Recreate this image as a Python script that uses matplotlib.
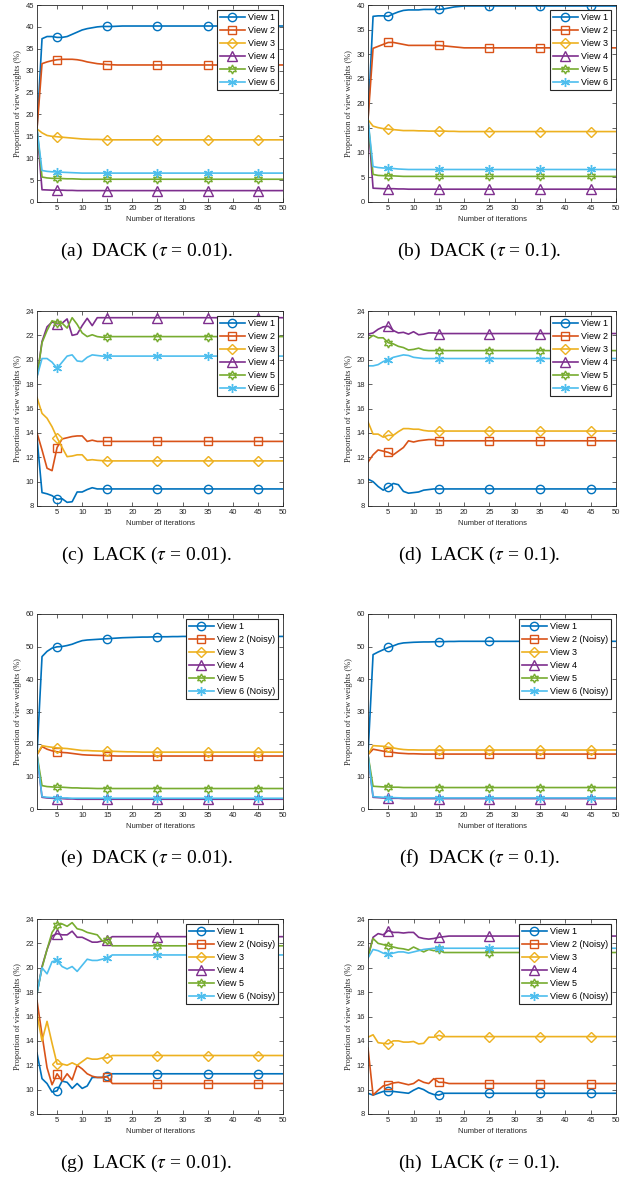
import matplotlib.pyplot as plt

plt.rcParams['font.family'] = ['Liberation Sans', 'DejaVu Sans']
plt.rcParams['mathtext.fontset'] = 'stix'

N_ITER = 50
iters = list(range(1, N_ITER + 1))


def settle(head):
    # weights stay flat after the last listed iteration
    return head + [head[-1]] * (N_ITER - len(head))


# (a) DACK, tau = 0.01
a_v1 = settle([16.7, 37.3, 37.8, 37.8, 37.6, 37.6, 37.8, 38.3, 38.8, 39.3, 39.6, 39.8, 40.0, 40.1, 40.1, 40.1, 40.15, 40.2])
a_v2 = settle([16.7, 31.6, 32.0, 32.3, 32.5, 32.6, 32.6, 32.6, 32.5, 32.3, 32.0, 31.8, 31.6, 31.5, 31.4, 31.35, 31.3])
a_v3 = settle([16.7, 15.8, 15.2, 15.0, 14.9, 14.8, 14.7, 14.6, 14.5, 14.4, 14.35, 14.3, 14.3, 14.25, 14.2])
a_v4 = settle([16.7, 2.8, 2.75, 2.7, 2.7, 2.7, 2.65, 2.65, 2.6])
a_v5 = settle([16.7, 5.7, 5.5, 5.4, 5.4, 5.35, 5.3, 5.3, 5.25, 5.2])
a_v6 = settle([16.7, 7.2, 7.0, 6.9, 6.9, 6.8, 6.75, 6.7, 6.65, 6.6])

# (b) DACK, tau = 0.1
b_v1 = settle([16.7, 37.7, 37.8, 37.8, 37.7, 38.2, 38.6, 38.9, 39.0, 39.0, 39.0, 39.1, 39.1, 39.1, 39.1, 39.2, 39.4, 39.6, 39.7, 39.8])
b_v2 = settle([16.7, 31.2, 31.6, 32.0, 32.4, 32.4, 32.2, 32.0, 31.8, 31.8, 31.8, 31.8, 31.8, 31.8, 31.8, 31.7, 31.6, 31.5, 31.4, 31.3])
b_v3 = settle([16.7, 15.4, 15.1, 14.9, 14.8, 14.7, 14.6, 14.5, 14.5, 14.5, 14.45, 14.45, 14.4, 14.4, 14.4, 14.4, 14.35, 14.35, 14.3])
b_v4 = settle([16.7, 2.8, 2.75, 2.7, 2.7, 2.7, 2.65, 2.65, 2.6])
b_v5 = settle([16.7, 5.6, 5.4, 5.35, 5.3, 5.3, 5.25, 5.2])
b_v6 = settle([16.7, 7.2, 7.0, 6.9, 6.9, 6.8, 6.7, 6.65, 6.6])

# (c) LACK, tau = 0.01
c_v1 = settle([13.6, 9.1, 9.0, 8.85, 8.55, 8.6, 8.3, 8.35, 9.15, 9.15, 9.35, 9.5, 9.4])
c_v2 = settle([14.0, 12.6, 11.1, 10.9, 12.8, 13.5, 13.6, 13.7, 13.75, 13.75, 13.3, 13.4, 13.3])
c_v3 = settle([16.9, 15.6, 15.2, 14.5, 13.6, 12.8, 12.05, 12.1, 12.2, 12.2, 11.75, 11.8, 11.75, 11.72, 11.7])
c_v4 = settle([18.6, 21.5, 22.7, 23.1, 22.95, 23.0, 23.35, 22.0, 22.1, 22.8, 23.4, 22.8, 23.45])
c_v5 = settle([18.6, 21.4, 22.4, 23.2, 23.0, 23.0, 22.6, 23.45, 22.9, 22.2, 21.9, 22.05, 21.9, 21.85, 21.85, 21.9])
c_v6 = settle([18.6, 20.1, 20.1, 19.8, 19.3, 19.8, 20.3, 20.4, 19.9, 19.85, 20.2, 20.4, 20.35, 20.3])

# (d) LACK, tau = 0.1
d_v1 = settle([10.2, 10.0, 9.6, 9.3, 9.55, 9.85, 9.75, 9.2, 9.05, 9.1, 9.15, 9.3, 9.35, 9.4])
d_v2 = settle([11.6, 12.2, 12.6, 12.5, 12.4, 12.2, 12.5, 12.8, 13.35, 13.25, 13.35, 13.4, 13.45, 13.45, 13.35])
d_v3 = settle([14.9, 13.9, 13.9, 13.65, 13.8, 13.8, 14.1, 14.35, 14.35, 14.3, 14.3, 14.2, 14.15])
d_v4 = settle([22.1, 22.2, 22.5, 22.7, 22.75, 22.4, 22.2, 22.25, 22.1, 22.3, 22.05, 22.1, 22.2, 22.2, 22.15])
d_v5 = settle([21.7, 22.0, 21.8, 21.8, 21.4, 21.3, 21.1, 21.0, 20.8, 20.85, 20.95, 20.8, 20.75])
d_v6 = settle([19.5, 19.5, 19.6, 19.85, 20.0, 20.2, 20.3, 20.4, 20.35, 20.2, 20.15, 20.1])

# (e) DACK, tau = 0.01, two noisy views
e_v1 = settle([16.7, 46.9, 48.5, 49.5, 49.9, 50.0, 50.3, 50.7, 51.3, 51.8, 52.0, 52.1, 52.2, 52.3, 52.4, 52.5, 52.6, 52.7, 52.75, 52.8,
               52.85, 52.9, 52.9, 52.95, 53.0, 53.0, 53.0, 53.05, 53.05, 53.1])
e_v2 = settle([16.7, 19.2, 18.4, 17.9, 17.6, 17.4, 17.3, 17.1, 16.9, 16.7, 16.6, 16.55, 16.5, 16.45, 16.4, 16.35, 16.3])
e_v3 = settle([16.7, 19.5, 19.2, 19.0, 18.8, 18.7, 18.6, 18.4, 18.2, 18.0, 18.0, 17.9, 17.85, 17.8, 17.8, 17.75, 17.7, 17.65, 17.6, 17.6, 17.55, 17.5])
e_v4 = settle([16.7, 3.6, 3.4, 3.3, 3.2, 3.2, 3.1, 3.1, 3.0])
e_v5 = settle([16.7, 7.2, 6.9, 6.8, 6.7, 6.7, 6.6, 6.5, 6.5, 6.4, 6.4, 6.35, 6.3])
e_v6 = settle([16.7, 3.8, 3.6, 3.5, 3.5, 3.4, 3.4, 3.3])

# (f) DACK, tau = 0.1, two noisy views
f_v1 = settle([16.7, 47.5, 48.3, 49.0, 49.7, 50.2, 50.8, 51.1, 51.2, 51.3, 51.35, 51.4, 51.4, 51.45, 51.5, 51.5, 51.55, 51.55, 51.6])
f_v2 = settle([16.7, 18.4, 18.1, 17.8, 17.6, 17.4, 17.2, 17.1, 17.0, 17.0, 16.95, 16.9])
f_v3 = settle([16.7, 19.5, 19.4, 19.3, 19.0, 18.8, 18.5, 18.3, 18.2, 18.2, 18.15])
f_v4 = settle([16.7, 3.6, 3.5, 3.4, 3.4, 3.3, 3.3, 3.2])
f_v5 = settle([16.7, 7.0, 6.9, 6.8, 6.8, 6.7, 6.7, 6.6])
f_v6 = settle([16.7, 3.8, 3.7, 3.6, 3.5, 3.5, 3.45, 3.4])

# (g) LACK, tau = 0.01, two noisy views
g_v1 = settle([13.0, 10.9, 10.5, 9.8, 9.9, 10.7, 10.6, 10.1, 10.5, 10.1, 10.3, 11.0, 11.0, 11.0, 11.1, 11.3])
g_v2 = settle([17.3, 14.5, 11.8, 10.4, 11.3, 10.7, 11.3, 10.8, 12.0, 11.7, 11.3, 11.1, 11.0, 11.0, 11.05, 10.5])
g_v3 = settle([16.2, 14.0, 15.6, 13.8, 12.1, 12.1, 12.0, 12.2, 12.0, 12.3, 12.6, 12.5, 12.5, 12.6, 12.6, 12.8])
g_v4 = settle([17.9, 20.1, 21.5, 22.6, 22.8, 22.7, 22.7, 23.0, 22.5, 22.5, 22.3, 22.1, 22.1, 22.2, 22.3, 22.55])
g_v5 = settle([17.9, 20.0, 21.5, 22.9, 23.5, 23.6, 23.4, 23.7, 23.2, 23.1, 22.9, 22.8, 22.7, 22.2, 22.25, 21.8])
g_v6 = settle([17.9, 20.0, 19.5, 20.5, 20.6, 20.1, 19.9, 20.1, 19.7, 20.2, 20.7, 20.6, 20.6, 20.7, 20.8, 21.05])

# (h) LACK, tau = 0.1, two noisy views
h_v1 = settle([9.7, 9.55, 9.7, 9.85, 9.85, 9.85, 9.8, 9.75, 9.7, 9.95, 10.15, 10.0, 9.75, 9.6, 9.55, 9.7])
h_v2 = settle([13.4, 9.55, 9.95, 10.3, 10.4, 10.55, 10.6, 10.5, 10.4, 10.5, 10.8, 10.6, 10.5, 10.9, 10.6, 10.6, 10.5])
h_v3 = settle([14.3, 14.5, 13.85, 13.8, 13.75, 14.0, 14.0, 13.9, 13.9, 13.95, 13.75, 13.8, 14.3, 14.3, 14.45, 14.35])
h_v4 = settle([20.9, 22.5, 22.8, 22.7, 23.05, 22.9, 22.9, 22.85, 22.9, 22.9, 22.5, 22.4, 22.35, 22.4, 22.5, 22.55, 22.6])
h_v5 = settle([20.9, 22.4, 22.0, 21.9, 21.8, 21.7, 21.6, 21.55, 21.45, 21.7, 21.5, 21.3, 21.5, 21.4, 21.5, 21.25])
h_v6 = settle([20.8, 21.5, 21.4, 21.2, 21.1, 21.2, 21.3, 21.3, 21.2, 21.3, 21.4, 21.5, 21.55, 21.6, 21.6])

labels_clean = ['View 1', 'View 2', 'View 3', 'View 4', 'View 5', 'View 6']
labels_noisy = ['View 1', 'View 2 (Noisy)', 'View 3', 'View 4', 'View 5', 'View 6 (Noisy)']

captions = [
    r'(a)  DACK ($\tau$ = 0.01).', r'(b)  DACK ($\tau$ = 0.1).',
    r'(c)  LACK ($\tau$ = 0.01).', r'(d)  LACK ($\tau$ = 0.1).',
    r'(e)  DACK ($\tau$ = 0.01).', r'(f)  DACK ($\tau$ = 0.1).',
    r'(g)  LACK ($\tau$ = 0.01).', r'(h)  LACK ($\tau$ = 0.1).',
]

# MATLAB default line colours and markers
colors = ['#0072BD', '#D95319', '#EDB120', '#7E2F8E', '#77AC30', '#4DBEEE']
markers = ['o', 's', 'D', '^', (6, 1, 0), (6, 2, 0)]
msizes = [6, 5.5, 5.5, 6.5, 6.5, 6.5]

panels = [
    ([a_v1, a_v2, a_v3, a_v4, a_v5, a_v6], (0, 45), range(0, 46, 5), labels_clean),
    ([b_v1, b_v2, b_v3, b_v4, b_v5, b_v6], (0, 40), range(0, 41, 5), labels_clean),
    ([c_v1, c_v2, c_v3, c_v4, c_v5, c_v6], (8, 24), range(8, 25, 2), labels_clean),
    ([d_v1, d_v2, d_v3, d_v4, d_v5, d_v6], (8, 24), range(8, 25, 2), labels_clean),
    ([e_v1, e_v2, e_v3, e_v4, e_v5, e_v6], (0, 60), range(0, 61, 10), labels_noisy),
    ([f_v1, f_v2, f_v3, f_v4, f_v5, f_v6], (0, 60), range(0, 61, 10), labels_noisy),
    ([g_v1, g_v2, g_v3, g_v4, g_v5, g_v6], (8, 24), range(8, 25, 2), labels_noisy),
    ([h_v1, h_v2, h_v3, h_v4, h_v5, h_v6], (8, 24), range(8, 25, 2), labels_noisy),
]

W, H = 639, 1180
fig = plt.figure(figsize=(W / 100, H / 100), dpi=100)

col_x = [(37, 283), (368, 616)]
row_y = [(5, 202), (311, 506), (614, 809), (919, 1114)]
cap_y = [251, 555, 858, 1163]
cap_x = [146, 479]

for k, (series, ylim, yticks, labels) in enumerate(panels):
    r, c = divmod(k, 2)
    x0, x1 = col_x[c]
    y0, y1 = row_y[r]
    ax = fig.add_axes([x0 / W, 1 - y1 / H, (x1 - x0) / W, (y1 - y0) / H])
    for vals, col, mk, ms, lab in zip(series, colors, markers, msizes, labels):
        ax.plot(iters, vals, color=col, lw=1.2, marker=mk, ms=ms,
                mfc='none', mec=col, mew=1.0, markevery=slice(4, N_ITER, 10),
                label=lab)
    ax.set_xlim(1, 50)
    ax.set_ylim(*ylim)
    ax.set_xticks(range(5, 51, 5))
    ax.set_yticks(list(yticks))
    ax.tick_params(direction='in', top=True, right=True, length=3, width=0.5,
                   labelsize=5.5, colors='#262626', pad=2)
    for sp in ax.spines.values():
        sp.set_linewidth(0.6)
        sp.set_color('#262626')
    ax.set_ylabel('Proportion of view weights (%)', family='Liberation Serif',
                  fontsize=6, color='#262626', labelpad=3)
    ax.set_xlabel('Number of iterations', fontsize=5.5, color='#262626', labelpad=3)
    leg = ax.legend(loc='upper right', fontsize=6.5, frameon=True, fancybox=False,
                    framealpha=1, edgecolor='#262626', borderaxespad=0.6,
                    handlelength=2.8, labelspacing=0.45, borderpad=0.3,
                    handletextpad=0.3)
    leg.get_frame().set_linewidth(0.8)
    fig.text(cap_x[c] / W, 1 - cap_y[r] / H, captions[k], ha='center', va='center',
             family='Liberation Serif', fontsize=14)

fig.savefig('out.png', dpi=100)
